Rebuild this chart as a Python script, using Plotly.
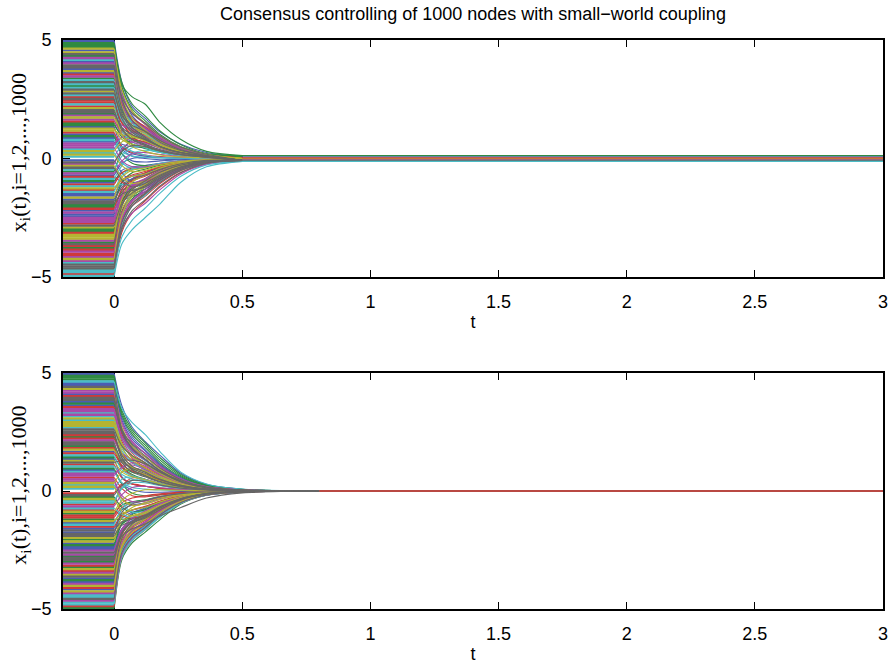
import plotly.graph_objects as go

# ---------------- data ----------------
# sample times of the transient part of every trajectory
T = [0, 0.03, 0.07, 0.12, 0.18, 0.26, 0.36, 0.5]
T_HOLD = 3.0                 # time up to which the final value is held
T_HIST = [-0.2, 0.0]         # constant initial history

# top panel: [x0, x(0.03), x(0.07), x(0.12), x(0.18), x(0.26), x(0.36)]
TOP_ROWS = [
    [4.95, 3.2, 2.2, 1.7, 1.1, 0.6, 0.25],
    [-0.55, 0.3, 0.8, 0.9, 0.6, 0.3, 0.1],
    [-3.85, -2.3, -1.5, -1.05, -0.6, -0.3, -0.12],
    [2.28, 1.15, 0.7, 0.45, 0.25, 0.12, 0.05],
    [-2.59, -1.7, -1.15, -0.9, -0.55, -0.3, -0.13],
    [3.69, 2.2, 1.4, 1.0, 0.6, 0.3, 0.11],
    [-4.64, -2.9, -2.0, -1.5, -1.0, -0.5, -0.18],
    [0.86, 0.6, 0.5, 0.45, 0.3, 0.15, 0.06],
    [4.32, 3.1, 2.6, 2.3, 1.5, 0.8, 0.3],
    [-1.34, -0.9, -0.7, -0.55, -0.35, -0.17, -0.07],
    [-4.95, -3.6, -3.0, -2.5, -1.9, -1.0, -0.35],
    [1.65, 1.0, 0.7, 0.55, 0.35, 0.18, 0.07],
    [-3.22, -1.7, -1.0, -0.7, -0.4, -0.2, -0.07],
    [2.91, 1.7, 1.1, 0.8, 0.5, 0.25, 0.1],
    [-0.08, -0.6, -1.0, -0.9, -0.6, -0.3, -0.1],
    [3.38, 2.0, 1.3, 0.95, 0.55, 0.28, 0.1],
    [-2.12, -1.3, -0.95, -0.75, -0.45, -0.22, -0.09],
    [0.39, 0.9, 1.1, 0.9, 0.55, 0.25, 0.09],
    [-4.32, -2.6, -1.8, -1.3, -0.8, -0.4, -0.15],
    [4.64, 2.6, 1.7, 1.2, 0.7, 0.33, 0.12],
    [-1.81, -1.2, -0.9, -0.7, -0.45, -0.22, -0.08],
    [1.02, 0.4, 0.1, 0.0, -0.05, -0.03, -0.01],
    [-3.54, -2.2, -1.6, -1.2, -0.75, -0.38, -0.14],
    [2.59, 1.5, 1.0, 0.75, 0.45, 0.22, 0.08],
    [-0.86, -0.3, 0.2, 0.35, 0.25, 0.12, 0.04],
    [4.01, 2.4, 1.6, 1.2, 0.75, 0.38, 0.14],
    [-2.91, -1.9, -1.4, -1.1, -0.7, -0.35, -0.13],
    [1.96, 1.3, 1.0, 0.8, 0.5, 0.24, 0.09],
    [-1.02, -0.5, -0.35, -0.3, -0.2, -0.1, -0.04],
    [3.06, 1.6, 0.9, 0.6, 0.33, 0.15, 0.05],
    [-4.01, -2.3, -1.5, -1.1, -0.65, -0.32, -0.12],
    [0.24, -0.2, -0.4, -0.35, -0.2, -0.1, -0.03],
    [-2.28, -1.5, -1.15, -0.95, -0.6, -0.3, -0.11],
    [4.48, 2.9, 2.0, 1.5, 0.95, 0.48, 0.18],
    [-0.39, -0.9, -1.2, -1.05, -0.7, -0.35, -0.12],
    [1.34, 0.5, 0.2, 0.1, 0.05, 0.02, 0.01],
    [-3.06, -1.8, -1.2, -0.85, -0.5, -0.24, -0.09],
    [2.44, 1.6, 1.2, 0.95, 0.6, 0.3, 0.11],
    [-4.79, -2.4, -1.5, -1.0, -0.55, -0.26, -0.1],
    [0.55, 1.2, 1.5, 1.3, 0.85, 0.42, 0.15],
    [-1.65, -0.8, -0.5, -0.4, -0.25, -0.12, -0.05],
    [3.85, 2.1, 1.3, 0.9, 0.5, 0.24, 0.09],
    [-2.44, -1.8, -1.6, -1.4, -0.95, -0.48, -0.17],
    [1.49, 0.9, 0.6, 0.45, 0.28, 0.14, 0.05],
    [-3.69, -2.6, -2.0, -1.6, -1.05, -0.52, -0.19],
    [4.16, 2.5, 1.5, 1.05, 0.6, 0.3, 0.11],
    [-0.24, 0.4, 0.7, 0.65, 0.42, 0.2, 0.07],
    [2.12, 1.0, 0.5, 0.3, 0.15, 0.07, 0.03],
    [-4.48, -3.0, -2.2, -1.75, -1.15, -0.58, -0.2],
    [0.71, 0.2, -0.1, -0.15, -0.1, -0.05, -0.02],
    [-1.96, -1.0, -0.6, -0.45, -0.28, -0.14, -0.05],
    [3.54, 2.3, 1.7, 1.35, 0.85, 0.42, 0.16],
    [-1.18, -1.1, -1.1, -0.95, -0.65, -0.32, -0.11],
    [1.81, 1.4, 1.25, 1.1, 0.75, 0.38, 0.14],
    [-3.38, -2.0, -1.3, -0.95, -0.55, -0.27, -0.1],
    [2.75, 1.8, 1.4, 1.15, 0.75, 0.37, 0.13],
    [-0.71, -0.2, 0.0, 0.05, 0.03, 0.01, 0.0],
    [4.79, 3.0, 2.0, 1.45, 0.85, 0.42, 0.15],
    [-2.75, -1.5, -0.9, -0.6, -0.35, -0.17, -0.06],
    [0.08, 0.5, 0.3, 0.15, 0.05, 0.02, 0.01],
    [-4.16, -2.9, -2.3, -1.9, -1.3, -0.65, -0.23],
    [1.18, 1.0, 0.95, 0.85, 0.55, 0.27, 0.1],
    [3.22, 1.9, 1.2, 0.85, 0.5, 0.25, 0.09],
    [-1.49, -1.3, -1.3, -1.2, -0.85, -0.42, -0.15],
    [4.87, 3.0, 2.1, 1.6, 1.0, 0.5, 0.19],
    [-1.1, -0.6, -0.4, -0.35, -0.22, -0.11, -0.04],
    [2.67, 1.6, 1.1, 0.85, 0.52, 0.26, 0.1],
    [-3.93, -2.5, -1.8, -1.4, -0.88, -0.44, -0.16],
    [0.31, 0.7, 0.9, 0.75, 0.45, 0.22, 0.08],
    [-4.56, -2.7, -1.9, -1.45, -0.9, -0.45, -0.17],
    [3.61, 2.0, 1.3, 0.95, 0.56, 0.28, 0.1],
    [-2.04, -1.4, -1.1, -0.9, -0.58, -0.29, -0.1],
    [1.57, 1.1, 0.85, 0.7, 0.45, 0.22, 0.08],
    [-0.47, 0.1, 0.45, 0.5, 0.35, 0.17, 0.06],
    [4.24, 2.7, 1.9, 1.45, 0.9, 0.45, 0.17],
    [-3.3, -2.1, -1.5, -1.15, -0.72, -0.36, -0.13],
    [2.04, 1.2, 0.8, 0.6, 0.37, 0.18, 0.07],
    [-1.73, -1.1, -0.85, -0.7, -0.45, -0.22, -0.08],
    [0.94, 0.2, -0.2, -0.3, -0.22, -0.11, -0.04],
    [-4.87, -3.1, -2.3, -1.8, -1.2, -0.6, -0.22],
    [3.14, 2.1, 1.5, 1.2, 0.78, 0.39, 0.14],
    [-2.67, -1.6, -1.1, -0.85, -0.52, -0.26, -0.1],
    [1.26, 0.8, 0.6, 0.5, 0.32, 0.16, 0.06],
    [-0.16, 0.3, 0.55, 0.5, 0.32, 0.16, 0.06],
    [4.56, 2.8, 1.8, 1.3, 0.8, 0.4, 0.15],
    [-3.77, -2.4, -1.7, -1.3, -0.82, -0.41, -0.15],
    [2.36, 1.5, 1.1, 0.85, 0.54, 0.27, 0.1],
    [-1.41, -0.7, -0.45, -0.35, -0.22, -0.11, -0.04],
    [0.63, 0.9, 1.1, 0.95, 0.62, 0.3, 0.11],
    [-4.24, -2.4, -1.6, -1.2, -0.72, -0.36, -0.13],
    [3.93, 2.6, 1.9, 1.5, 0.95, 0.48, 0.18],
    [-2.36, -1.3, -0.85, -0.62, -0.38, -0.19, -0.07],
    [1.88, 1.0, 0.6, 0.42, 0.25, 0.12, 0.05],
    [-0.78, -1.0, -1.15, -1.0, -0.65, -0.32, -0.11],
    [2.98, 1.9, 1.35, 1.05, 0.66, 0.33, 0.12],
    [-3.46, -2.3, -1.75, -1.4, -0.9, -0.45, -0.16],
    [0.16, -0.3, -0.55, -0.5, -0.32, -0.16, -0.06],
    [-1.88, -1.5, -1.35, -1.2, -0.8, -0.4, -0.14],
    [4.08, 2.3, 1.5, 1.1, 0.65, 0.32, 0.12],
    [-2.98, -1.8, -1.25, -0.95, -0.6, -0.3, -0.11],
    [1.1, 0.5, 0.25, 0.15, 0.08, 0.04, 0.01],
    [-4.4, -2.8, -2.0, -1.55, -0.98, -0.49, -0.18],
    [3.46, 2.2, 1.6, 1.25, 0.78, 0.39, 0.14],
    [-0.31, -0.8, -1.05, -0.95, -0.62, -0.31, -0.11],
    [2.51, 1.3, 0.8, 0.55, 0.32, 0.16, 0.06],
    [-1.57, -1.0, -0.75, -0.62, -0.4, -0.2, -0.07],
    [4.71, 3.2, 2.3, 1.8, 1.15, 0.58, 0.21],
    [-3.14, -1.9, -1.3, -1.0, -0.62, -0.31, -0.11],
    [0.78, 0.3, 0.1, 0.05, 0.02, 0.01, 0.0],
    [-2.51, -1.6, -1.2, -0.98, -0.63, -0.31, -0.11],
    [1.73, 1.2, 0.95, 0.8, 0.52, 0.26, 0.09],
    [-3.61, -2.0, -1.3, -0.95, -0.57, -0.28, -0.1],
    [3.77, 2.4, 1.7, 1.3, 0.82, 0.41, 0.15],
    [-0.94, -0.6, -0.45, -0.38, -0.25, -0.12, -0.04],
    [2.2, 1.5, 1.15, 0.95, 0.62, 0.31, 0.11],
    [-4.71, -3.3, -2.6, -2.1, -1.45, -0.75, -0.27],
    [0.47, -0.1, -0.35, -0.35, -0.23, -0.11, -0.04],
    [-1.26, -0.9, -0.75, -0.65, -0.43, -0.21, -0.08],
    [4.4, 2.5, 1.6, 1.15, 0.68, 0.34, 0.12],
    [-2.2, -1.7, -1.5, -1.3, -0.88, -0.44, -0.16],
    [1.41, 1.0, 0.8, 0.68, 0.45, 0.22, 0.08],
    [-4.08, -2.6, -1.9, -1.5, -0.95, -0.47, -0.17],
    [3.3, 1.8, 1.1, 0.78, 0.45, 0.22, 0.08],
    [-0.63, -0.1, 0.2, 0.25, 0.17, 0.08, 0.03],
    [2.83, 1.9, 1.4, 1.1, 0.72, 0.36, 0.13],
    [-2.83, -1.9, -1.45, -1.15, -0.74, -0.37, -0.13],
]
# top panel: residual level (from t = 0.5 on) of each colour group
# (blue, green, red, cyan, magenta, olive, grey)
TOP_FINAL_LEVEL = [0.07, 0.12, 0.03, -0.12, -0.04, 0.0, -0.08]

# bottom panel: [x0, x(0.03), x(0.07), x(0.12), x(0.18), x(0.26), x(0.36), x(0.5)]
BOT_ROWS = [
    [4.96, 3.6, 2.7, 2.1, 1.5, 0.75, 0.28, 0.07],
    [-2.29, -1.4, -1.0, -0.8, -0.5, -0.25, -0.09, -0.02],
    [0.57, 0.1, -0.2, -0.25, -0.17, -0.08, -0.03, -0.01],
    [-4.49, -2.6, -2.0, -1.6, -1.05, -0.5, -0.17, -0.04],
    [3.39, 2.2, 1.5, 1.1, 0.7, 0.35, 0.12, 0.03],
    [-0.88, -0.4, -0.1, 0.05, 0.05, 0.03, 0.01, 0.0],
    [1.98, 1.3, 0.95, 0.75, 0.48, 0.24, 0.08, 0.02],
    [-3.7, -2.3, -1.7, -1.35, -0.85, -0.4, -0.14, -0.03],
    [-4.96, -2.9, -2.2, -1.75, -1.2, -0.55, -0.18, -0.04],
    [-1.51, -1.0, -0.8, -0.65, -0.42, -0.2, -0.07, -0.02],
    [0.1, 0.5, 0.6, 0.45, 0.25, 0.12, 0.04, 0.01],
    [4.17, 2.9, 2.1, 1.6, 1.05, 0.52, 0.19, 0.05],
    [2.76, 1.8, 1.3, 1.0, 0.62, 0.3, 0.1, 0.03],
    [-2.92, -1.8, -1.35, -1.1, -0.72, -0.35, -0.12, -0.03],
    [1.35, 0.6, 0.3, 0.2, 0.1, 0.05, 0.02, 0.0],
    [-0.26, -0.7, -0.9, -0.8, -0.5, -0.25, -0.08, -0.02],
    [-3.39, -2.1, -1.55, -1.25, -0.8, -0.38, -0.13, -0.03],
    [4.64, 3.5, 2.9, 2.4, 1.65, 0.8, 0.3, 0.08],
    [0.73, 1.0, 1.1, 0.9, 0.55, 0.26, 0.09, 0.02],
    [-1.98, -1.3, -1.05, -0.9, -0.6, -0.3, -0.1, -0.03],
    [3.86, 2.5, 1.8, 1.35, 0.85, 0.42, 0.15, 0.04],
    [-4.17, -2.5, -1.85, -1.45, -0.95, -0.46, -0.16, -0.04],
    [2.29, 1.4, 0.9, 0.65, 0.4, 0.2, 0.07, 0.02],
    [-0.57, 0.2, 0.55, 0.5, 0.32, 0.15, 0.05, 0.01],
    [1.04, 0.7, 0.5, 0.4, 0.25, 0.12, 0.04, 0.01],
    [-3.08, -1.7, -1.15, -0.85, -0.52, -0.25, -0.09, -0.02],
    [4.33, 2.7, 1.9, 1.45, 0.92, 0.45, 0.16, 0.04],
    [-2.61, -1.9, -1.6, -1.4, -1.05, -0.7, -0.3, -0.08],
    [1.67, 1.2, 1.0, 0.85, 0.56, 0.27, 0.09, 0.02],
    [-1.2, -1.2, -1.15, -1.0, -0.65, -0.31, -0.1, -0.03],
    [3.55, 2.1, 1.4, 1.0, 0.62, 0.3, 0.1, 0.03],
    [-4.8, -2.8, -2.1, -1.65, -1.1, -0.52, -0.18, -0.04],
    [0.41, -0.3, -0.6, -0.55, -0.35, -0.17, -0.06, -0.01],
    [-2.14, -1.1, -0.7, -0.5, -0.3, -0.14, -0.05, -0.01],
    [2.61, 1.9, 1.5, 1.2, 0.8, 0.4, 0.14, 0.04],
    [-3.86, -2.4, -1.85, -1.5, -1.0, -0.48, -0.16, -0.04],
    [4.8, 3.2, 2.4, 1.85, 1.2, 0.6, 0.22, 0.06],
    [-0.1, 0.3, 0.3, 0.2, 0.1, 0.05, 0.02, 0.0],
    [1.51, 0.9, 0.65, 0.5, 0.32, 0.15, 0.05, 0.01],
    [-4.33, -2.2, -1.5, -1.15, -0.72, -0.34, -0.12, -0.03],
    [3.08, 2.0, 1.45, 1.15, 0.74, 0.36, 0.13, 0.03],
    [-1.67, -1.3, -1.2, -1.05, -0.7, -0.34, -0.11, -0.03],
    [0.88, 0.3, 0.05, -0.05, -0.05, -0.02, -0.01, 0.0],
    [-2.76, -1.7, -1.3, -1.05, -0.68, -0.33, -0.11, -0.03],
    [4.02, 2.4, 1.6, 1.2, 0.75, 0.36, 0.13, 0.03],
    [-0.73, -1.0, -1.1, -0.95, -0.62, -0.3, -0.1, -0.02],
    [2.14, 1.6, 1.35, 1.15, 0.78, 0.38, 0.13, 0.03],
    [-3.55, -2.0, -1.4, -1.05, -0.65, -0.31, -0.1, -0.03],
    [1.2, 1.3, 1.3, 1.15, 0.78, 0.38, 0.13, 0.03],
    [-2.45, -1.6, -1.25, -1.0, -0.65, -0.32, -0.11, -0.03],
    [3.7, 2.6, 2.0, 1.6, 1.05, 0.5, 0.18, 0.05],
    [-1.04, -0.5, -0.3, -0.2, -0.12, -0.06, -0.02, 0.0],
    [0.26, -0.5, -0.9, -0.85, -0.55, -0.26, -0.09, -0.02],
    [-4.64, -2.7, -2.0, -1.55, -1.0, -0.48, -0.17, -0.04],
    [2.92, 1.6, 1.0, 0.7, 0.42, 0.2, 0.07, 0.02],
    [-1.82, -0.9, -0.55, -0.4, -0.24, -0.11, -0.04, -0.01],
    [4.49, 3.1, 2.3, 1.75, 1.15, 0.56, 0.2, 0.05],
    [-3.23, -2.0, -1.5, -1.2, -0.78, -0.37, -0.13, -0.03],
    [1.82, 1.0, 0.65, 0.45, 0.27, 0.13, 0.04, 0.01],
    [-0.41, 0.1, 0.35, 0.35, 0.22, 0.1, 0.03, 0.01],
    [3.23, 2.3, 1.8, 1.45, 0.95, 0.46, 0.16, 0.04],
    [-4.02, -2.3, -1.6, -1.2, -0.75, -0.36, -0.12, -0.03],
    [2.45, 1.5, 1.05, 0.8, 0.5, 0.24, 0.08, 0.02],
    [-1.35, -0.8, -0.6, -0.5, -0.32, -0.15, -0.05, -0.01],
    [4.88, 3.3, 2.5, 1.95, 1.3, 0.65, 0.24, 0.06],
    [-1.12, -0.7, -0.5, -0.42, -0.27, -0.13, -0.05, -0.01],
    [2.69, 1.7, 1.2, 0.92, 0.58, 0.29, 0.1, 0.03],
    [-3.94, -2.3, -1.7, -1.35, -0.86, -0.42, -0.15, -0.04],
    [0.34, 0.8, 0.95, 0.8, 0.5, 0.24, 0.08, 0.02],
    [-4.57, -2.6, -1.95, -1.55, -1.0, -0.49, -0.17, -0.04],
    [3.63, 2.4, 1.75, 1.35, 0.86, 0.43, 0.15, 0.04],
    [-2.06, -1.4, -1.15, -0.95, -0.62, -0.3, -0.1, -0.03],
    [1.59, 1.1, 0.85, 0.7, 0.45, 0.22, 0.08, 0.02],
    [-0.49, 0.15, 0.45, 0.45, 0.3, 0.14, 0.05, 0.01],
    [4.25, 2.8, 2.05, 1.6, 1.03, 0.51, 0.18, 0.05],
    [-3.31, -2.0, -1.45, -1.15, -0.73, -0.36, -0.12, -0.03],
    [2.06, 1.2, 0.8, 0.6, 0.37, 0.18, 0.06, 0.02],
    [-1.75, -1.15, -0.9, -0.75, -0.49, -0.24, -0.08, -0.02],
    [0.96, 0.3, -0.1, -0.2, -0.15, -0.07, -0.02, 0.0],
    [-4.88, -2.8, -2.1, -1.65, -1.08, -0.52, -0.18, -0.04],
    [3.16, 2.2, 1.65, 1.3, 0.85, 0.42, 0.15, 0.04],
    [-2.69, -1.6, -1.15, -0.9, -0.56, -0.27, -0.09, -0.02],
    [1.28, 0.8, 0.6, 0.48, 0.31, 0.15, 0.05, 0.01],
    [-0.18, 0.25, 0.45, 0.4, 0.25, 0.12, 0.04, 0.01],
    [4.57, 3.0, 2.2, 1.7, 1.1, 0.55, 0.2, 0.05],
    [-3.78, -2.3, -1.7, -1.35, -0.86, -0.42, -0.14, -0.04],
    [2.37, 1.6, 1.2, 0.95, 0.62, 0.31, 0.11, 0.03],
    [-1.43, -0.75, -0.5, -0.4, -0.25, -0.12, -0.04, -0.01],
    [0.65, 1.0, 1.2, 1.05, 0.68, 0.33, 0.12, 0.03],
    [-4.25, -2.4, -1.75, -1.4, -0.9, -0.44, -0.15, -0.04],
    [3.94, 2.6, 1.95, 1.5, 0.97, 0.48, 0.17, 0.04],
    [-2.37, -1.35, -0.95, -0.72, -0.45, -0.22, -0.07, -0.02],
    [1.9, 1.05, 0.7, 0.5, 0.3, 0.15, 0.05, 0.01],
    [-0.81, -1.05, -1.15, -1.0, -0.66, -0.32, -0.11, -0.03],
    [3.0, 2.0, 1.45, 1.12, 0.72, 0.36, 0.13, 0.03],
    [-3.47, -2.2, -1.65, -1.3, -0.84, -0.41, -0.14, -0.04],
    [0.18, -0.35, -0.6, -0.55, -0.36, -0.17, -0.06, -0.01],
    [-1.9, -1.45, -1.3, -1.15, -0.77, -0.38, -0.13, -0.03],
    [4.1, 2.5, 1.7, 1.3, 0.8, 0.4, 0.14, 0.04],
    [-3.0, -1.8, -1.3, -1.0, -0.64, -0.31, -0.1, -0.03],
    [1.12, 0.55, 0.3, 0.2, 0.12, 0.06, 0.02, 0.0],
    [-4.41, -2.55, -1.9, -1.5, -0.97, -0.47, -0.16, -0.04],
    [3.47, 2.3, 1.7, 1.33, 0.86, 0.43, 0.15, 0.04],
    [-0.34, -0.85, -1.05, -0.95, -0.62, -0.3, -0.1, -0.02],
    [2.53, 1.4, 0.9, 0.65, 0.4, 0.2, 0.07, 0.02],
    [-1.59, -1.05, -0.82, -0.68, -0.44, -0.21, -0.07, -0.02],
    [4.72, 3.4, 2.6, 2.05, 1.4, 0.7, 0.26, 0.07],
    [-3.16, -1.85, -1.3, -1.0, -0.63, -0.3, -0.1, -0.03],
    [0.81, 0.35, 0.15, 0.08, 0.04, 0.02, 0.01, 0.0],
    [-2.53, -1.65, -1.3, -1.05, -0.68, -0.33, -0.11, -0.03],
    [1.75, 1.25, 1.0, 0.85, 0.55, 0.27, 0.09, 0.02],
    [-3.63, -2.0, -1.4, -1.08, -0.68, -0.33, -0.11, -0.03],
    [3.78, 2.5, 1.85, 1.45, 0.93, 0.46, 0.16, 0.04],
    [-0.96, -0.6, -0.45, -0.37, -0.24, -0.12, -0.04, -0.01],
    [2.22, 1.55, 1.2, 1.0, 0.66, 0.33, 0.11, 0.03],
    [-4.72, -2.7, -2.05, -1.6, -1.05, -0.5, -0.17, -0.04],
    [0.49, -0.2, -0.45, -0.42, -0.27, -0.13, -0.04, -0.01],
    [-1.28, -0.95, -0.8, -0.7, -0.46, -0.22, -0.08, -0.02],
    [4.41, 2.6, 1.8, 1.35, 0.85, 0.42, 0.15, 0.04],
    [-2.22, -1.6, -1.35, -1.15, -0.76, -0.37, -0.12, -0.03],
    [1.43, 1.0, 0.8, 0.67, 0.44, 0.21, 0.07, 0.02],
    [-4.1, -2.4, -1.8, -1.42, -0.92, -0.45, -0.15, -0.04],
    [3.31, 1.9, 1.25, 0.9, 0.55, 0.27, 0.09, 0.02],
    [-0.65, -0.15, 0.15, 0.2, 0.14, 0.07, 0.02, 0.0],
    [2.84, 1.95, 1.5, 1.2, 0.78, 0.38, 0.13, 0.03],
    [-2.84, -1.75, -1.3, -1.03, -0.66, -0.32, -0.11, -0.03],
]
# bottom panel: exact consensus, every colour group ends at 0 (reached at t = 0.8)
BOT_FINAL_LEVEL = [0.0, 0.0, 0.0, 0.0, 0.0, 0.0, 0.0]
BOT_FINAL_TIME = 0.8

X_TICKS = [0, 0.5, 1, 1.5, 2, 2.5, 3]
X_TICK_TEXT = ["0", "0.5", "1", "1.5", "2", "2.5", "3"]
Y_TICKS = [-5, 0, 5]
Y_TICK_TEXT = ["\u22125", "0", "5"]

TITLE = "Consensus controlling of 1000 nodes with small\u2212world coupling"
X_LABEL = "t"
Y_LABEL = "x<sub>i</sub>(t),i=1,2,...,1000"

# MATLAB-like colour order (as it appears, slightly softened)
COLORS = ["#4b5db2", "#2f8a42", "#cf3a3a", "#4bbcc6", "#a84aa8", "#b4b432", "#666666"]

# ---------------- figure ----------------
W, H = 893, 671
fig = go.Figure()

# (rows, sample times, final level per colour, time the level is reached, axes,
#  drawing order of the fan, drawing order of the held final values)
panels = [
    (TOP_ROWS, T[:7], TOP_FINAL_LEVEL, T[7], "x", "y",
     [0, 1, 2, 3, 4, 5, 6], [0, 4, 5, 6, 3, 2, 1]),
    (BOT_ROWS, T, BOT_FINAL_LEVEL, BOT_FINAL_TIME, "x2", "y2",
     [0, 1, 2, 3, 4, 5, 6], [0, 1, 3, 4, 5, 6, 2]),
]


def add_lines(xs, ys, c, width, xa, ya, spline):
    line = dict(color=COLORS[c], width=width)
    if spline:
        line.update(shape="spline", smoothing=0.8)
    fig.add_trace(go.Scatter(x=xs, y=ys, mode="lines", xaxis=xa, yaxis=ya,
                             line=line, hoverinfo="skip", showlegend=False))


nc = len(COLORS)
for rows, ts, levels, t_final, xa, ya, fan_order, tail_order in panels:
    # constant history for t < 0
    for c in fan_order:
        xs, ys = [], []
        for i, r in enumerate(rows):
            if i % nc == c:
                xs += T_HIST + [None]
                ys += [r[0], r[0], None]
        add_lines(xs, ys, c, 2.3, xa, ya, False)
    # transient fan
    for c in fan_order:
        xs, ys = [], []
        for i, r in enumerate(rows):
            if i % nc == c:
                xs += list(ts) + [t_final, None]
                ys += list(r) + [levels[c], None]
        add_lines(xs, ys, c, 1.1, xa, ya, True)
    # held final values
    for c in tail_order:
        add_lines([t_final, T_HOLD], [levels[c], levels[c]], c, 1.3, xa, ya, False)

FONT = "Liberation Sans, Arial, Helvetica, sans-serif"
SERIF = "Liberation Serif, DejaVu Serif, serif"
x_dom = [63 / W, 883 / W]
top_dom = [1 - 277 / H, 1 - 40 / H]
bot_dom = [1 - 609 / H, 1 - 373 / H]


def xaxis(domain, anchor):
    return dict(domain=domain, anchor=anchor, range=[-0.2, 3], automargin=False,
                tickmode="array", tickvals=X_TICKS, ticktext=X_TICK_TEXT,
                ticks="inside", ticklen=7, tickwidth=1, tickcolor="black",
                showline=True, linecolor="black", linewidth=1.6, mirror="ticks",
                showgrid=False, zeroline=False, layer="below traces",
                ticklabelstandoff=8,
                tickfont=dict(family=FONT, size=18, color="black"),
                title=dict(text=X_LABEL, font=dict(family=FONT, size=18, color="black"),
                           standoff=4))


def yaxis(domain, anchor):
    return dict(domain=domain, anchor=anchor, range=[-5, 5], automargin=False,
                tickmode="array", tickvals=Y_TICKS, ticktext=Y_TICK_TEXT,
                ticks="inside", ticklen=7, tickwidth=1, tickcolor="black",
                showline=True, linecolor="black", linewidth=1.6, mirror="ticks",
                showgrid=False, zeroline=False, layer="below traces",
                ticklabelstandoff=6,
                tickfont=dict(family=FONT, size=18, color="black"))


fig.update_layout(
    width=W, height=H, autosize=False,
    margin=dict(l=0, r=0, t=0, b=0, autoexpand=False),
    paper_bgcolor="white", plot_bgcolor="white",
    xaxis=xaxis(x_dom, "y"), yaxis=yaxis(top_dom, "x"),
    xaxis2=xaxis(x_dom, "y2"), yaxis2=yaxis(bot_dom, "x2"),
    title=dict(text=TITLE, x=(x_dom[0] + x_dom[1]) / 2, xanchor="center",
               xref="paper", y=1 - 14 / H, yanchor="middle", yref="container",
               font=dict(family=FONT, size=18, color="black")),
    annotations=[
        dict(text=Y_LABEL, textangle=-90, xref="paper", yref="paper",
             x=20 / W, y=(top_dom[0] + top_dom[1]) / 2 + 0.008,
             xanchor="center", yanchor="middle", showarrow=False,
             font=dict(family=SERIF, size=22, color="black")),
        dict(text=Y_LABEL, textangle=-90, xref="paper", yref="paper",
             x=20 / W, y=(bot_dom[0] + bot_dom[1]) / 2 + 0.008,
             xanchor="center", yanchor="middle", showarrow=False,
             font=dict(family=SERIF, size=22, color="black")),
    ],
)

fig.write_html(
    "out.html",
    config={"displayModeBar": False},
    post_script="document.body.style.margin='0px';document.body.style.overflow='hidden';",
)
